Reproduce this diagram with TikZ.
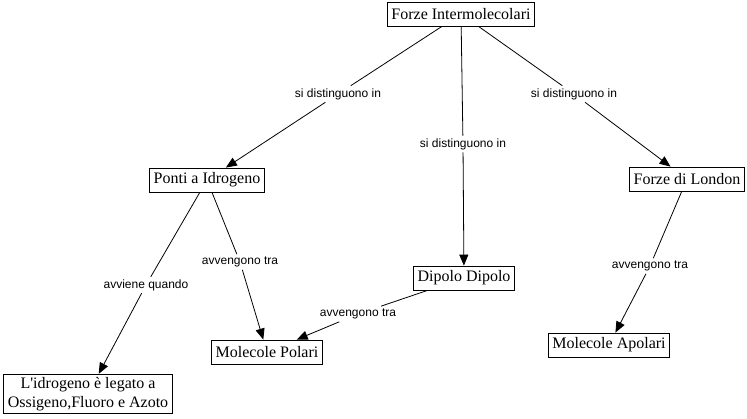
\documentclass[tikz,border=0pt]{standalone}
\usepackage{fontspec}
\setmainfont{Liberation Serif}
\newfontfamily\etichetta{Liberation Sans}
\usetikzlibrary{arrows.meta}

\tikzset{
  concetto/.style={draw, fill=white, line width=0.8pt, inner xsep=4pt, inner ysep=3pt,
    minimum height=24pt, align=center, font=\fontsize{16}{19}\selectfont},
  frase/.style={fill=white, inner sep=2.5pt, font=\etichetta\fontsize{12}{14}\selectfont},
  linea/.style={line width=0.8pt},
  freccia/.style={line width=0.8pt, -{Triangle[length=11pt,width=9pt]}}
}

\begin{document}
\begin{tikzpicture}[x=1pt,y=-1pt]

\useasboundingbox (0,0) rectangle (747,418);

% CONCETTI
\node[concetto] (forze)   at (461,14)  {Forze Intermolecolari};
\node[concetto] (ponti)   at (207,180) {Ponti a Idrogeno};
\node[concetto] (dipolo)  at (464,278) {Dipolo Dipolo};
\node[concetto] (london)  at (687,179) {Forze di London};
\node[concetto] (polari)  at (267,352) {Molecole Polari};
\node[concetto] (apolari) at (609,345) {Molecole Apolari};
\node[concetto] (legato)  at (88,394)
{L\textquotesingle idrogeno è legato a\\Ossigeno,Fluoro e Azoto};

% FRASI DI COLLEGAMENTO
\node[frase] (dist1) at (338,94)  {si distinguono in};
\node[frase] (dist2) at (463,144) {si distinguono in};
\node[frase] (dist3) at (574,94)  {si distinguono in};
\node[frase] (quando) at (146,285) {avviene quando};
\node[frase] (tra1)  at (240,262) {avvengono tra};
\node[frase] (tra2)  at (358,314) {avvengono tra};
\node[frase] (tra3)  at (650,266) {avvengono tra};

% COLLEGAMENTI
\draw[linea] (forze) -- (dist1);
\draw[freccia] (dist1) -- (ponti);
\draw[linea] (forze) -- (dist2);
\draw[freccia] (dist2) -- (dipolo);
\draw[linea] (forze) -- (dist3);
\draw[freccia] (dist3) -- (london);

\draw[linea] (ponti) -- (quando);
\draw[freccia] (quando) -- (legato);
\draw[linea] (ponti) -- (tra1);
\draw[freccia] (tra1) -- (polari);

\draw[linea] (dipolo) -- (tra2);
\draw[freccia] (tra2) -- (polari);

\draw[linea] (london) -- (tra3);
\draw[freccia] (tra3) -- (apolari);

\end{tikzpicture}
\end{document}
